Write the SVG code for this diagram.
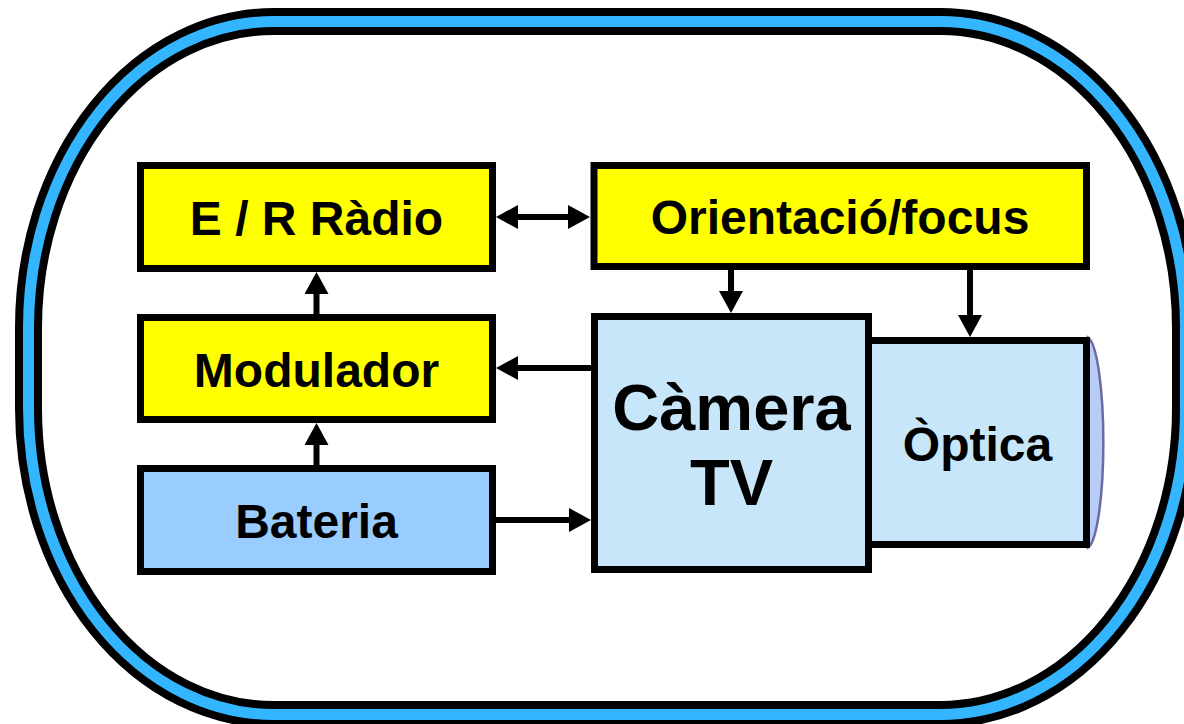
<svg xmlns="http://www.w3.org/2000/svg" width="1184" height="724" viewBox="0 0 1184 724">
<defs>
<style>
.box{stroke:#000;stroke-width:7}
.y{fill:#FFFF00}
.bat{fill:#99CCFF}
.cam{fill:#C8E6FA}
.t{font-family:"Liberation Sans",Arial,sans-serif;font-weight:bold;fill:#000;text-anchor:middle;font-size:48px}
.big{font-size:65px}
.conn{stroke:#000;stroke-width:6;fill:none}
</style>
<marker id="ah" viewBox="0 0 22 24" refX="1" refY="12" markerWidth="22" markerHeight="24" markerUnits="userSpaceOnUse" orient="auto-start-reverse">
<path d="M0,0 L22,12 L0,24 z" fill="#000"/>
</marker>
</defs>
<rect width="1184" height="724" fill="#fff"/>
<g id="frame">
<rect x="28.5" y="21.5" width="1157" height="693" rx="245" ry="306" fill="#fff" stroke="#000" stroke-width="27"/>
<rect x="28.5" y="21.5" width="1157" height="693" rx="245" ry="306" fill="none" stroke="#33B5FF" stroke-width="11"/>
</g>
<g id="radio">
<rect class="box y" x="140.5" y="165.5" width="352" height="103"/>
<text class="t" x="316.5" y="235">E / R Ràdio</text>
</g>
<g id="modulador">
<rect class="box y" x="140.5" y="317.5" width="352" height="102"/>
<text class="t" x="316.5" y="387">Modulador</text>
</g>
<g id="bateria">
<rect class="box bat" x="140.5" y="468.5" width="352" height="103"/>
<text class="t" x="316.5" y="538">Bateria</text>
</g>
<g id="orientacio">
<rect class="box y" x="594" y="165.5" width="492.5" height="101"/>
<text class="t" x="840" y="234">Orientació/focus</text>
</g>
<g id="optica">
<path d="M1088,337.5 A17,105.5 0 0 1 1088,547.5 Z" fill="#B8CCF8" stroke="#6B6B9E" stroke-width="2.5"/>
<rect class="box cam" x="868.5" y="340.5" width="218" height="204"/>
<text class="t" x="977.5" y="461">Òptica</text>
</g>
<g id="camera">
<rect class="box cam" x="594.5" y="316.5" width="274" height="253"/>
<text class="t big" x="731.5" y="430">Càmera</text>
<text class="t big" x="731.5" y="505">TV</text>
</g>
<g id="connectors">
<line class="conn" x1="517" y1="217" x2="569" y2="217" marker-start="url(#ah)" marker-end="url(#ah)"/>
<line class="conn" x1="316.5" y1="314" x2="316.5" y2="293" marker-end="url(#ah)"/>
<line class="conn" x1="316.5" y1="465" x2="316.5" y2="444" marker-end="url(#ah)"/>
<line class="conn" x1="591" y1="368" x2="517" y2="368" marker-end="url(#ah)"/>
<line class="conn" x1="496" y1="520" x2="570" y2="520" marker-end="url(#ah)"/>
<line class="conn" x1="731" y1="270" x2="731" y2="292" marker-end="url(#ah)"/>
<line class="conn" x1="970" y1="270" x2="970" y2="316" marker-end="url(#ah)"/>
</g>
</svg>
